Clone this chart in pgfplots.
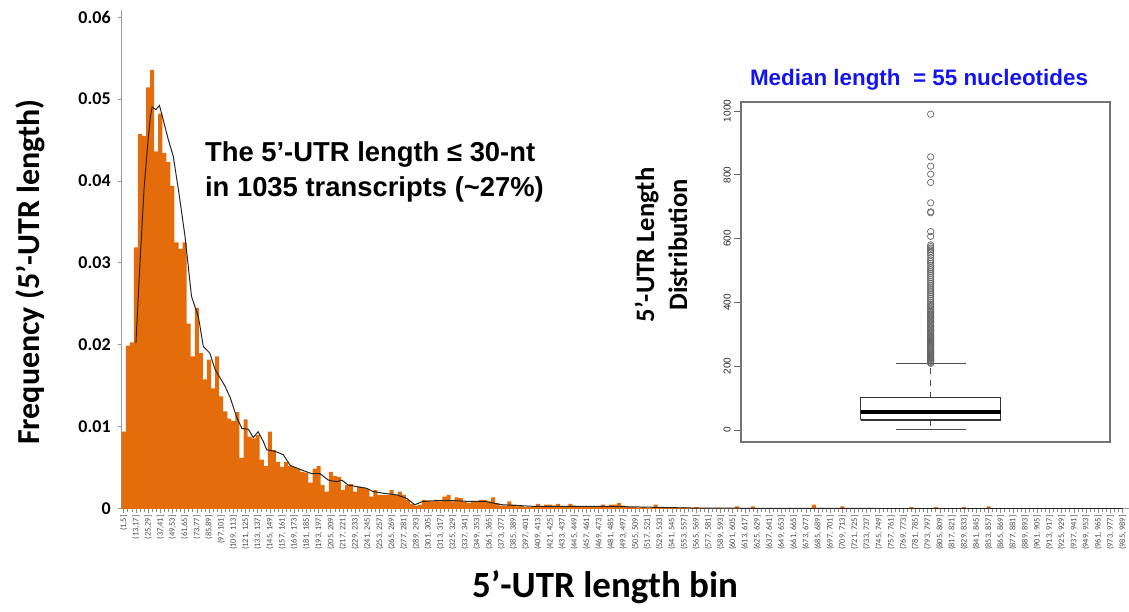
\documentclass[border=0pt]{standalone}
\usepackage{fontspec}
\setmainfont{Carlito}
\newfontfamily\arialfont{Liberation Sans}
\usepackage{pgfplots}
\usepackage{pgfplotstable}
\pgfplotsset{compat=1.18}
\definecolor{barorange}{RGB}{228,108,10}
\definecolor{medblue}{RGB}{20,20,240}

\pgfplotstableread{
x y
1 0.0094
2 0.0199
3 0.0203
4 0.0319
5 0.0457
6 0.0455
7 0.0514
8 0.0535
9 0.0436
10 0.0482
11 0.0434
12 0.0423
13 0.0394
14 0.0325
15 0.0317
16 0.0325
17 0.0226
18 0.0186
19 0.0245
20 0.0190
21 0.0158
22 0.0182
23 0.0147
24 0.0186
25 0.0137
26 0.0119
27 0.0110
28 0.0107
29 0.0118
30 0.0062
31 0.0109
32 0.0088
33 0.0086
34 0.0090
35 0.0060
36 0.0052
37 0.0094
38 0.0072
39 0.0057
40 0.0051
41 0.0057
42 0.0052
43 0.0051
44 0.0049
45 0.0045
46 0.0044
47 0.0032
48 0.0049
49 0.0052
50 0.0029
51 0.0021
52 0.0045
53 0.0040
54 0.0039
55 0.0023
56 0.0029
57 0.0030
58 0.0021
59 0.0027
60 0.0026
61 0.0024
62 0.0015
63 0.0023
64 0.0017
65 0.0017
66 0.0017
67 0.0023
68 0.0017
69 0.0021
70 0.0017
71 0.0011
72 0.0006
73 0.0004
74 0.0005
75 0.0011
76 0.0010
77 0.0009
78 0.0011
79 0.0009
80 0.0015
81 0.0017
82 0.0009
83 0.0014
84 0.0013
85 0.0009
86 0.0007
87 0.0009
88 0.0009
89 0.0011
90 0.0011
91 0.0009
92 0.0014
93 0.0007
94 0.0004
95 0.0004
96 0.0009
97 0.0005
98 0.0003
99 0.0004
100 0.0002
101 0.0002
102 0.0002
103 0.0006
104 0.0003
105 0.0005
106 0.0005
107 0.0004
108 0.0006
109 0.0003
110 0.0003
111 0.0006
112 0.0004
113 0.0003
114 0.0002
115 0.0003
116 0.0003
117 0.0002
118 0.0002
119 0.0005
120 0.0002
121 0.0005
122 0.0005
123 0.0007
124 0.0004
125 0.0003
126 0.0002
127 0.0002
128 0.0001
129 0.0002
130 0.0001
131 0.0001
132 0.0005
133 0.0001
134 0.0002
135 0.0001
136 0.0001
137 0.0002
138 0.0001
139 0.0002
140 0.0001
141 0.0001
142 0.0002
143 0.0001
144 0.0001
145 0.0001
147 0.0001
148 0.0001
150 0.0001
152 0.0003
155 0.0001
156 0.0003
160 0.0001
165 0.0001
171 0.0005
172 0.0001
173 0.0001
178 0.0003
185 0.0001
195 0.0002
201 0.0002
208 0.0002
214 0.0003
}\bars

\pgfplotstableread{
x y
4.0 0.0202
5.0 0.0300
6.0 0.0390
7.0 0.0450
7.6 0.0480
8.0 0.0490
8.9 0.0487
9.8 0.0492
10.7 0.0475
12.0 0.0450
13.2 0.0430
14.6 0.0385
16.1 0.0332
17.7 0.0259
19.4 0.0234
20.6 0.0198
22.2 0.0190
23.5 0.0170
25.9 0.0150
27.2 0.0136
28.8 0.0112
30.1 0.0098
31.7 0.0097
32.9 0.0087
34.1 0.0094
35.4 0.0082
36.2 0.0072
38.3 0.0070
40.3 0.0066
42.0 0.0053
44.0 0.0049
46.1 0.0045
47.3 0.0043
49.3 0.0043
51.4 0.0035
53.5 0.0033
54.7 0.0035
56.3 0.0029
58.4 0.0027
60.8 0.0025
62.4 0.0021
64.9 0.0019
68.2 0.0017
70.6 0.0013
72.7 0.0005
74.7 0.0009
78.0 0.0010
82.0 0.0010
86.0 0.0009
90.0 0.0009
94.0 0.0005
98.0 0.0004
102.0 0.0003
110.0 0.0003
120.0 0.0003
130.0 0.0002
140.0 0.0001
160.0 0.00005
200.0 0.00003
247.0 0.00002
}\dens

\begin{document}
\begin{tikzpicture}
\path[use as bounding box] (0,0) rectangle (564.5pt,305.5pt);
\begin{axis}[
  at={(60.85pt,51.1pt)}, anchor=south west,
  scale only axis, width=503.65pt, height=249.2pt,
  xmin=0.5, xmax=248.6, ymin=0, ymax=0.0608,
  axis x line=bottom, axis y line=left,
  axis line style={-, draw=black!40, line width=0.6pt},
  xtick={1,4,...,247},
  xticklabels={{(1,5]},{(13,17]},{(25,29]},{(37,41]},{(49,53]},{(61,65]},{(73,77]},{(85,89]},{(97,101]},{(109, 113]},{(121, 125]},{(133, 137]},{(145, 149]},{(157, 161]},{(169, 173]},{(181, 185]},{(193, 197]},{(205, 209]},{(217, 221]},{(229, 233]},{(241, 245]},{(253, 257]},{(265, 269]},{(277, 281]},{(289, 293]},{(301, 305]},{(313, 317]},{(325, 329]},{(337, 341]},{(349, 353]},{(361, 365]},{(373, 377]},{(385, 389]},{(397, 401]},{(409, 413]},{(421, 425]},{(433, 437]},{(445, 449]},{(457, 461]},{(469, 473]},{(481, 485]},{(493, 497]},{(505, 509]},{(517, 521]},{(529, 533]},{(541, 545]},{(553, 557]},{(565, 569]},{(577, 581]},{(589, 593]},{(601, 605]},{(613, 617]},{(625, 629]},{(637, 641]},{(649, 653]},{(661, 665]},{(673, 677]},{(685, 689]},{(697, 701]},{(709, 713]},{(721, 725]},{(733, 737]},{(745, 749]},{(757, 761]},{(769, 773]},{(781, 785]},{(793, 797]},{(805, 809]},{(817, 821]},{(829, 833]},{(841, 845]},{(853, 857]},{(865, 869]},{(877, 881]},{(889, 893]},{(901, 905]},{(913, 917]},{(925, 929]},{(937, 941]},{(949, 953]},{(961, 965]},{(973, 977]},{(985, 989]}},
  minor x tick num=2,
  xticklabel style={rotate=90, anchor=east, font=\fontsize{4.2}{5}\selectfont, text=black!70, inner sep=1pt},
  x tick style={draw=black!45, line width=0.3pt},
  tick align=outside,
  major tick length=2pt, minor tick length=1.5pt,
  ytick={0,0.01,0.02,0.03,0.04,0.05,0.06},
  yticklabels={0,0.01,0.02,0.03,0.04,0.05,0.06},
  yticklabel style={font=\bfseries\fontsize{9}{10}\selectfont},
  y tick style={draw=black!40, line width=0.4pt},
]
\addplot[ybar, bar width=1, bar shift=0pt, fill=barorange, draw=none] table[x=x,y=y] {\bars};
\addplot[black!85, line width=0.5pt, no marks] table[x=x,y=y] {\dens};
\end{axis}

\begin{axis}[
  at={(370.5pt,84.5pt)}, anchor=south west,
  scale only axis, width=184.5pt, height=170pt,
  xmin=0, xmax=1, ymin=-37.6, ymax=1028.2,
  axis line style={draw=black!55, line width=0.6pt},
  xtick=\empty,
  ytick={0,200,400,600,800,1000},
  yticklabels={0,200,400,600,800,1000},
  ytick pos=left,
  tick align=outside,
  major tick length=3.5pt,
  y tick style={draw=black!60, line width=0.4pt},
  yticklabel style={rotate=90, anchor=south, font=\arialfont\fontsize{5}{6}\selectfont, text=black!85, inner sep=1.5pt},
]
\addplot[black!80, line width=0.7pt, line join=miter] coordinates {(0.324,31)(0.704,31)(0.704,101)(0.324,101)(0.324,31)};
\addplot[black, line width=2pt] coordinates {(0.324,55)(0.704,55)};
\addplot[black!70, dashed, line width=0.4pt] coordinates {(0.514,101)(0.514,207)};
\addplot[black!70, dashed, line width=0.4pt] coordinates {(0.514,31)(0.514,1)};
\addplot[black!70, line width=0.5pt] coordinates {(0.419,207)(0.609,207)};
\addplot[black!70, line width=0.5pt] coordinates {(0.419,1)(0.609,1)};
\addplot[only marks, mark=o, mark size=1.6pt, black!60, mark options={line width=0.35pt}] coordinates {
(0.514,209)(0.514,212)(0.514,215)(0.514,218)(0.514,221)(0.514,224)(0.514,227)(0.514,230)(0.514,233)(0.514,236)
(0.514,239)(0.514,242)(0.514,245)(0.514,248)(0.514,251)(0.514,254)(0.514,257)(0.514,260)(0.514,263)(0.514,266)
(0.514,269)(0.514,272)(0.514,275)(0.514,278)(0.514,281)(0.514,284)(0.514,287)(0.514,290)(0.514,293)(0.514,296)
(0.514,300)(0.514,304)(0.514,308)(0.514,312)(0.514,316)(0.514,320)(0.514,324)(0.514,328)(0.514,332)(0.514,336)
(0.514,340)(0.514,344)(0.514,348)(0.514,352)(0.514,356)(0.514,360)(0.514,364)(0.514,368)(0.514,372)(0.514,376)
(0.514,380)(0.514,385)(0.514,390)(0.514,395)(0.514,400)(0.514,406)(0.514,412)(0.514,418)(0.514,424)(0.514,430)
(0.514,436)(0.514,442)(0.514,448)(0.514,454)(0.514,460)(0.514,466)(0.514,472)(0.514,478)(0.514,484)(0.514,490)
(0.514,496)(0.514,502)(0.514,508)(0.514,515)(0.514,522)(0.514,528)(0.514,533)(0.514,540)(0.514,548)(0.514,555)
(0.514,560)(0.514,565)(0.514,570)(0.514,575)(0.514,580)(0.514,607)(0.514,622)(0.514,681)(0.514,684)(0.514,712)
(0.514,776)(0.514,802)(0.514,827)(0.514,856)(0.514,990)};
\end{axis}

\node[rotate=90, font=\bfseries\fontsize{16}{18}\selectfont] at (15pt,169.5pt) {Frequency (5’-UTR length)};
\node[font=\bfseries\fontsize{18.5}{20}\selectfont] at (302.5pt,11.75pt) {5’-UTR length bin};
\node[anchor=west, align=left, font=\arialfont\bfseries\fontsize{13.7}{17.5}\selectfont] at (99pt,219.5pt) {The 5’-UTR length ≤ 30-nt\\in 1035 transcripts (\textasciitilde27\%)};
\node[font=\arialfont\bfseries\fontsize{11.2}{13}\selectfont, text=medblue] at (459.5pt,265.5pt) {Median length\ \ = 55 nucleotides};
\node[rotate=90, align=center, font=\bfseries\fontsize{13.3}{16.5}\selectfont] at (330.5pt,183pt) {5’-UTR Length\\Distribution};
\end{tikzpicture}
\end{document}
